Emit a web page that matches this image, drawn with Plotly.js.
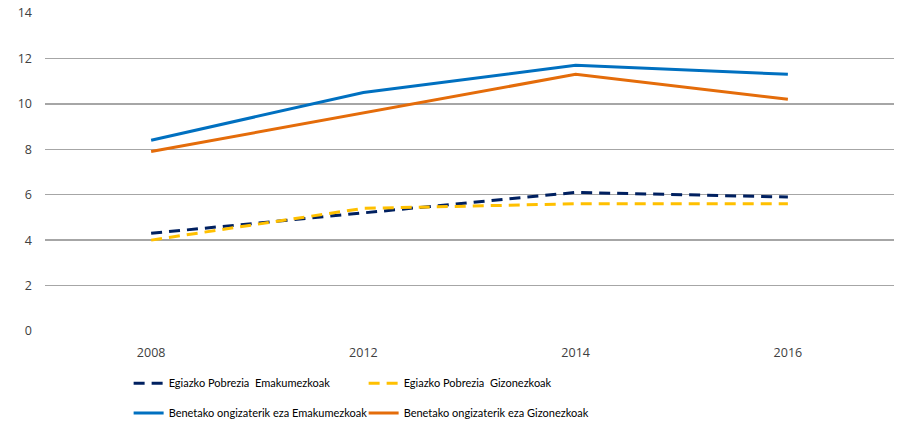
<!DOCTYPE html>
<html>
<head>
<meta charset="utf-8">
<script src="https://cdn.plot.ly/plotly-3.0.1.min.js"></script>
<style>html,body{margin:0;padding:0;background:#fff;}#chart{width:906px;height:448px;}</style>
</head>
<body>
<div id="chart"></div>
<script>
var years = ['2008', '2012', '2014', '2016'];
var egiazkoEmakume = [4.3, 5.2, 6.1, 5.9];
var egiazkoGizon = [4.0, 5.4, 5.6, 5.6];
var benetakoEmakume = [8.4, 10.5, 11.7, 11.3];
var benetakoGizon = [7.9, 9.6, 11.3, 10.2];
var names = ['Egiazko Pobrezia  Emakumezkoak', 'Egiazko Pobrezia  Gizonezkoak',
             'Benetako ongizaterik eza Emakumezkoak', 'Benetako ongizaterik eza Gizonezkoak'];
var yTicks = [0, 2, 4, 6, 8, 10, 12, 14];

var legendFont = 'Lato, sans-serif';
var tickFont = '"Open Sans", "Noto Sans", sans-serif';
var traces = [
  {x: years, y: egiazkoEmakume, name: names[0], mode: 'lines', legend: 'legend',
   line: {color: '#002060', width: 3, dash: '11px,7px'}},
  {x: years, y: egiazkoGizon, name: names[1], mode: 'lines', legend: 'legend',
   line: {color: '#FFC000', width: 3, dash: '11px,7px'}},
  {x: years, y: benetakoEmakume, name: names[2], mode: 'lines', legend: 'legend2',
   line: {color: '#0070C0', width: 3}},
  {x: years, y: benetakoGizon, name: names[3], mode: 'lines', legend: 'legend2',
   line: {color: '#E46C0A', width: 3}}
];
var legendBase = {orientation: 'h', entrywidth: 190, entrywidthmode: 'pixels',
  font: {family: legendFont, size: 11, color: '#000'}, bgcolor: 'rgba(0,0,0,0)',
  xanchor: 'left', yanchor: 'middle', x: 0.0985, traceorder: 'normal'};
var layout = {
  width: 906, height: 448,
  margin: {l: 45, r: 12, t: 13, b: 117},
  paper_bgcolor: '#fff', plot_bgcolor: '#fff',
  font: {family: tickFont, size: 12, color: '#404040'},
  showlegend: true,
  legend: Object.assign({}, legendBase, {y: -0.164}),
  legend2: Object.assign({}, legendBase, {y: -0.258}),
  xaxis: {type: 'category', range: [-0.5, 3.5], showgrid: false, zeroline: false,
    showline: false, ticks: '', ticklabelstandoff: 12,
    tickfont: {family: tickFont, size: 12.5, color: '#404040'}},
  yaxis: {range: [0, 14], tickvals: yTicks, showgrid: true, gridcolor: '#a6a6a6', gridwidth: 1.3,
    zeroline: false, showline: false, ticks: '', ticklabelstandoff: 12,
    tickfont: {family: tickFont, size: 12.5, color: '#404040'}}
};
Plotly.newPlot('chart', traces, layout, {displayModeBar: false, staticPlot: true});
</script>
</body>
</html>
